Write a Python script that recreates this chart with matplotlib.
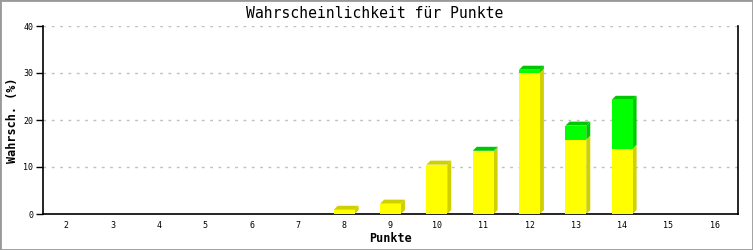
import matplotlib
matplotlib.use('Agg')
import matplotlib.pyplot as plt
from matplotlib.patches import Polygon, Rectangle

punkte = [2, 3, 4, 5, 6, 7, 8, 9, 10, 11, 12, 13, 14, 15, 16]
gelb = [0, 0, 0, 0, 0, 0, 0.9, 2.2, 10.5, 13.3, 30.1, 15.8, 13.9, 0, 0]
gruen = [0, 0, 0, 0, 0, 0, 0, 0, 0, 0.15, 0.6, 3.0, 10.4, 0, 0]
y_ticks = [0, 10, 20, 30, 40]

title = "Wahrscheinlichkeit für Punkte"
xlabel = "Punkte"
ylabel = "Wahrsch. (%)"

c_yellow = '#ffff00'
c_yellow_dark = '#d0d000'
c_green = '#00ff00'
c_green_dark = '#00c800'

plt.rcParams['font.family'] = ['DejaVu Sans Mono', 'DejaVu Sans']

W, H = 753, 250
fig = plt.figure(figsize=(W / 100, H / 100), dpi=100)
fig.patch.set_facecolor('white')
l, r, b, t = 43, 738, 214, 26
ax = fig.add_axes([l / W, (H - b) / H, (r - l) / W, (b - t) / H])
ax.set_xlim(1.5, 16.5)
ax.set_ylim(0, 40)

# pixel depth of 3D effect converted to data units
depth_px = 4
dx = depth_px * (16.5 - 1.5) / (r - l)
dy = depth_px * 40 / (b - t)
bw = 0.45

for x, yv, gv in zip(punkte, gelb, gruen):
    if yv + gv <= 0:
        continue
    x0, x1 = x - bw / 2, x + bw / 2
    top = yv + gv
    if yv > 0:
        ax.add_patch(Polygon([(x1, 0), (x1 + dx, dy), (x1 + dx, yv + dy), (x1, yv)],
                             closed=True, facecolor=c_yellow_dark, edgecolor='none', zorder=2))
    if gv > 0:
        ax.add_patch(Polygon([(x1, yv), (x1 + dx, yv + dy), (x1 + dx, top + dy), (x1, top)],
                             closed=True, facecolor=c_green_dark, edgecolor='none', zorder=2))
    tc = c_green_dark if gv > 0 else c_yellow_dark
    ax.add_patch(Polygon([(x0, top), (x0 + dx, top + dy), (x1 + dx, top + dy), (x1, top)],
                         closed=True, facecolor=tc, edgecolor='none', zorder=2))

ax.bar(punkte, gelb, width=bw, color=c_yellow, zorder=3, linewidth=0)
ax.bar(punkte, gruen, width=bw, bottom=gelb, color=c_green, zorder=3, linewidth=0)

ax.set_xticks(punkte)
ax.set_xticklabels([str(p) for p in punkte], fontsize=6)
ax.set_yticks(y_ticks)
ax.set_yticklabels([str(v) for v in y_ticks], fontsize=6)
ax.tick_params(axis='x', length=0, pad=5)
ax.tick_params(axis='y', length=5, width=1, pad=2, direction='out')

ax.grid(axis='y', color='#c0c0c0', linestyle=(0, (2, 4)), linewidth=1)
ax.set_axisbelow(True)
for s in ['left', 'right', 'bottom']:
    ax.spines[s].set_color('black')
    ax.spines[s].set_linewidth(1.2)
ax.spines['top'].set_visible(False)

fig.text(0.5 * (l + r) / W, 1 - 239 / H, xlabel, ha='center', va='center',
         fontsize=8.5, fontweight='bold')
fig.text(13 / W, 1 - 120 / H, ylabel, ha='center', va='center', rotation=90,
         fontsize=8.5, fontweight='bold')
fig.text(375 / W, 1 - 13 / H, title, ha='center', va='center', fontsize=10.6)

fig.patches.append(Rectangle((0, 0), 1, 1, transform=fig.transFigure, fill=False,
                             edgecolor='#999999', linewidth=2))

fig.savefig('out.png', dpi=100, facecolor='white')
